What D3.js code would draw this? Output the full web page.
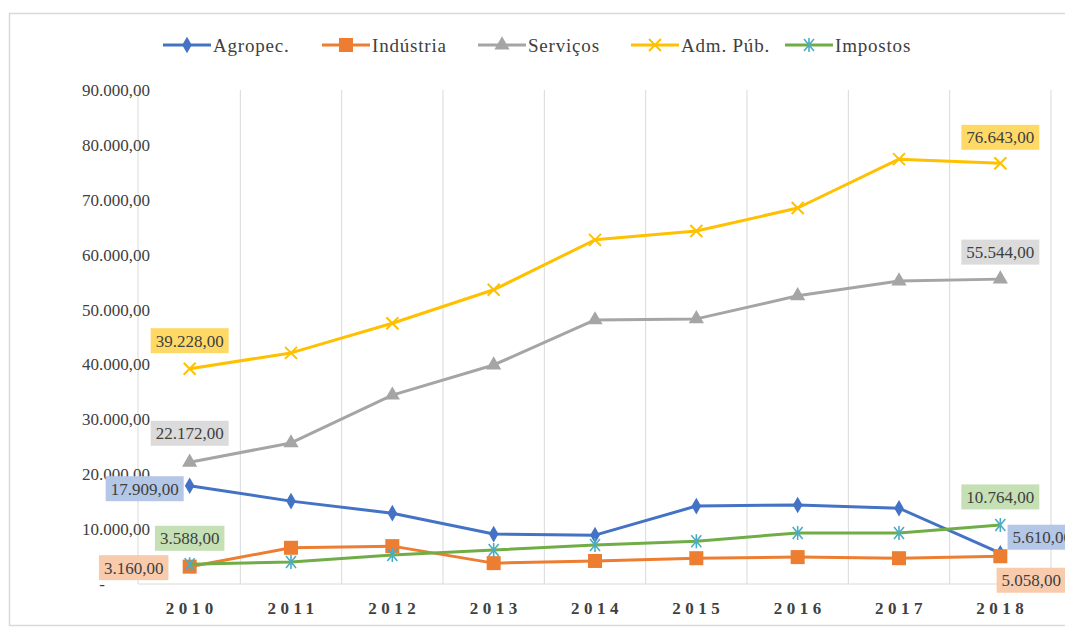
<!DOCTYPE html>
<html>
<head>
<meta charset="utf-8">
<script src="https://cdn.jsdelivr.net/npm/d3@7/dist/d3.min.js"></script>
<style>
  body { margin: 0; background: #fff; }
  text { font-family: "Liberation Serif", "Times New Roman", serif; }
</style>
</head>
<body>
<svg id="chart" width="1065" height="630"></svg>
<script>
var years = ["2010", "2011", "2012", "2013", "2014", "2015", "2016", "2017", "2018"];
var agropec   = [17909, 15100, 12900, 9100, 8900, 14200, 14400, 13800, 5610];
var industria = [3160, 6600, 6900, 3800, 4200, 4700, 4900, 4700, 5058];
var servicos  = [22172, 25700, 34400, 39900, 48100, 48300, 52500, 55200, 55544];
var admPub    = [39228, 42100, 47500, 53600, 62700, 64300, 68500, 77400, 76643];
var impostos  = [3588, 4000, 5300, 6200, 7100, 7800, 9300, 9300, 10764];
var seriesNames = ["Agropec.", "Indústria", "Serviços", "Adm. Púb.", "Impostos"];
var yTicks = [0, 10000, 20000, 30000, 40000, 50000, 60000, 70000, 80000, 90000];

var svg = d3.select("#chart");

var loc = d3.formatLocale({decimal: ",", thousands: ".", grouping: [3], currency: ["", ""]});
var fmt = loc.format(",.2f");

var series = [
  {name: seriesNames[0], values: agropec,   color: "#4472C4", mcolor: "#4472C4", marker: "diamond", box: "#B4C7E7"},
  {name: seriesNames[1], values: industria, color: "#ED7D31", mcolor: "#ED7D31", marker: "square",  box: "#F8CBAD"},
  {name: seriesNames[2], values: servicos,  color: "#A5A5A5", mcolor: "#A5A5A5", marker: "triangle", box: "#DBDBDB"},
  {name: seriesNames[3], values: admPub,    color: "#FFC000", mcolor: "#FFC000", marker: "x",       box: "#FFD966"},
  {name: seriesNames[4], values: impostos,  color: "#70AD47", mcolor: "#4BACC6", marker: "star",    box: "#C5E0B4"}
];

// label placement per series: [first, last] offsets of box centre from the point
var labelPos = [
  [{dx: -45, dy: 3}, {dx: 42, dy: -16}],
  [{dx: -56, dy: 1}, {dx: 31, dy: 24}],
  [{dx: 0, dy: -29}, {dx: 0, dy: -27}],
  [{dx: 0, dy: -28}, {dx: 0, dy: -26}],
  [{dx: 0, dy: -26}, {dx: 0, dy: -28}]
];

// outer border
svg.append("rect")
  .attr("x", 9.5).attr("y", 13.5)
  .attr("width", 1070).attr("height", 612)
  .attr("fill", "none").attr("stroke", "#D9D9D9").attr("stroke-width", 1.5);

var x = d3.scaleBand().domain(years).range([139, 1051]);
var y = d3.scaleLinear().domain([0, 90000]).range([584, 90]);

// vertical gridlines at band boundaries
var g = svg.append("g");
g.selectAll("line.grid")
  .data(years)
  .enter().append("line")
    .attr("class", "grid")
    .attr("x1", function(d) { return x(d) + x.bandwidth(); })
    .attr("x2", function(d) { return x(d) + x.bandwidth(); })
    .attr("y1", y(90000)).attr("y2", y(0))
    .attr("stroke", "#D9D9D9").attr("stroke-width", 1);

// y axis line and x axis line
g.append("line").attr("x1", 138).attr("x2", 138).attr("y1", y(90000)).attr("y2", y(0))
  .attr("stroke", "#D9D9D9");
g.append("line").attr("x1", 138).attr("x2", 1051).attr("y1", y(0)).attr("y2", y(0))
  .attr("stroke", "#D9D9D9");

// y tick labels
g.selectAll("text.ytick")
  .data(yTicks)
  .enter().append("text")
    .attr("class", "ytick")
    .attr("x", function(d) { return d === 0 ? 102 : 150; })
    .attr("y", function(d) { return y(d); })
    .attr("dy", "0.35em")
    .attr("text-anchor", function(d) { return d === 0 ? "middle" : "end"; })
    .attr("font-size", 17)
    .attr("fill", "#404040")
    .text(function(d) { return d === 0 ? "-" : fmt(d); });

// x tick labels
g.selectAll("text.xtick")
  .data(years)
  .enter().append("text")
    .attr("class", "xtick")
    .attr("x", function(d) { return x(d) + x.bandwidth() / 2 + 2; })
    .attr("y", 614)
    .attr("text-anchor", "middle")
    .attr("font-size", 17)
    .attr("font-weight", "bold")
    .attr("letter-spacing", "4.5px")
    .attr("fill", "#404040")
    .text(function(d) { return d; });

var cx = function(d, i) { return x(years[i]) + x.bandwidth() / 2; };
var line = d3.line()
  .x(function(d, i) { return x(years[i]) + x.bandwidth() / 2; })
  .y(function(d) { return y(d); });

function drawMarker(sel, type, color, px, py) {
  if (type === "diamond") {
    sel.append("path").attr("d", d3.symbol(d3.symbolDiamond, 80)())
      .attr("transform", "translate(" + px + "," + py + ")").attr("fill", color);
  } else if (type === "square") {
    sel.append("rect").attr("x", px - 7).attr("y", py - 7).attr("width", 14).attr("height", 14)
      .attr("fill", color);
  } else if (type === "triangle") {
    sel.append("path").attr("d", d3.symbol(d3.symbolTriangle, 100)())
      .attr("transform", "translate(" + px + "," + py + ")").attr("fill", color);
  } else if (type === "x") {
    sel.append("path").attr("d", "M-6,-6L6,6M-6,6L6,-6")
      .attr("transform", "translate(" + px + "," + py + ")")
      .attr("stroke", color).attr("stroke-width", 2).attr("fill", "none");
  } else if (type === "star") {
    sel.append("path").attr("d", "M-5,-6L5,6M-5,6L5,-6M0,-7L0,7")
      .attr("transform", "translate(" + px + "," + py + ")")
      .attr("stroke", color).attr("stroke-width", 1.6).attr("fill", "none");
  }
}

// draw series so Impostos and Adm. Púb. sit on top as in the reference
var drawOrder = [2, 3, 0, 1, 4];
drawOrder.forEach(function(si) {
  var s = series[si];
  var sg = svg.append("g");
  sg.append("path")
    .datum(s.values)
    .attr("d", line)
    .attr("fill", "none")
    .attr("stroke", s.color)
    .attr("stroke-width", 3)
    .attr("stroke-linejoin", "round");
  s.values.forEach(function(v, i) {
    drawMarker(sg, s.marker, s.mcolor, cx(v, i), y(v));
  });
});

// data labels on first and last points
series.forEach(function(s, si) {
  [0, s.values.length - 1].forEach(function(idx, k) {
    var p = labelPos[si][k];
    var px = cx(s.values[idx], idx) + p.dx;
    var py = y(s.values[idx]) + p.dy;
    var lg = svg.append("g").attr("transform", "translate(" + px + "," + py + ")");
    var t = lg.append("text")
      .attr("text-anchor", "middle")
      .attr("dy", "0.35em")
      .attr("font-size", 17)
      .attr("fill", "#404040")
      .text(fmt(s.values[idx]));
    var bb = t.node().getBBox();
    lg.insert("rect", "text")
      .attr("x", bb.x - 5).attr("y", -12.5)
      .attr("width", bb.width + 10).attr("height", 25)
      .attr("fill", s.box);
  });
});

// legend
var legendX = [163, 322, 478, 631, 785];
var legend = svg.append("g");
series.forEach(function(s, i) {
  var lx = legendX[i], ly = 45;
  legend.append("line").attr("x1", lx).attr("x2", lx + 48).attr("y1", ly).attr("y2", ly)
    .attr("stroke", s.color).attr("stroke-width", 3);
  drawMarker(legend, s.marker, s.mcolor, lx + 24, ly);
  legend.append("text")
    .attr("x", lx + 50).attr("y", ly).attr("dy", "0.35em")
    .attr("font-size", 19)
    .attr("letter-spacing", "0.8px")
    .attr("fill", "#404040")
    .text(s.name);
});
</script>
</body>
</html>
